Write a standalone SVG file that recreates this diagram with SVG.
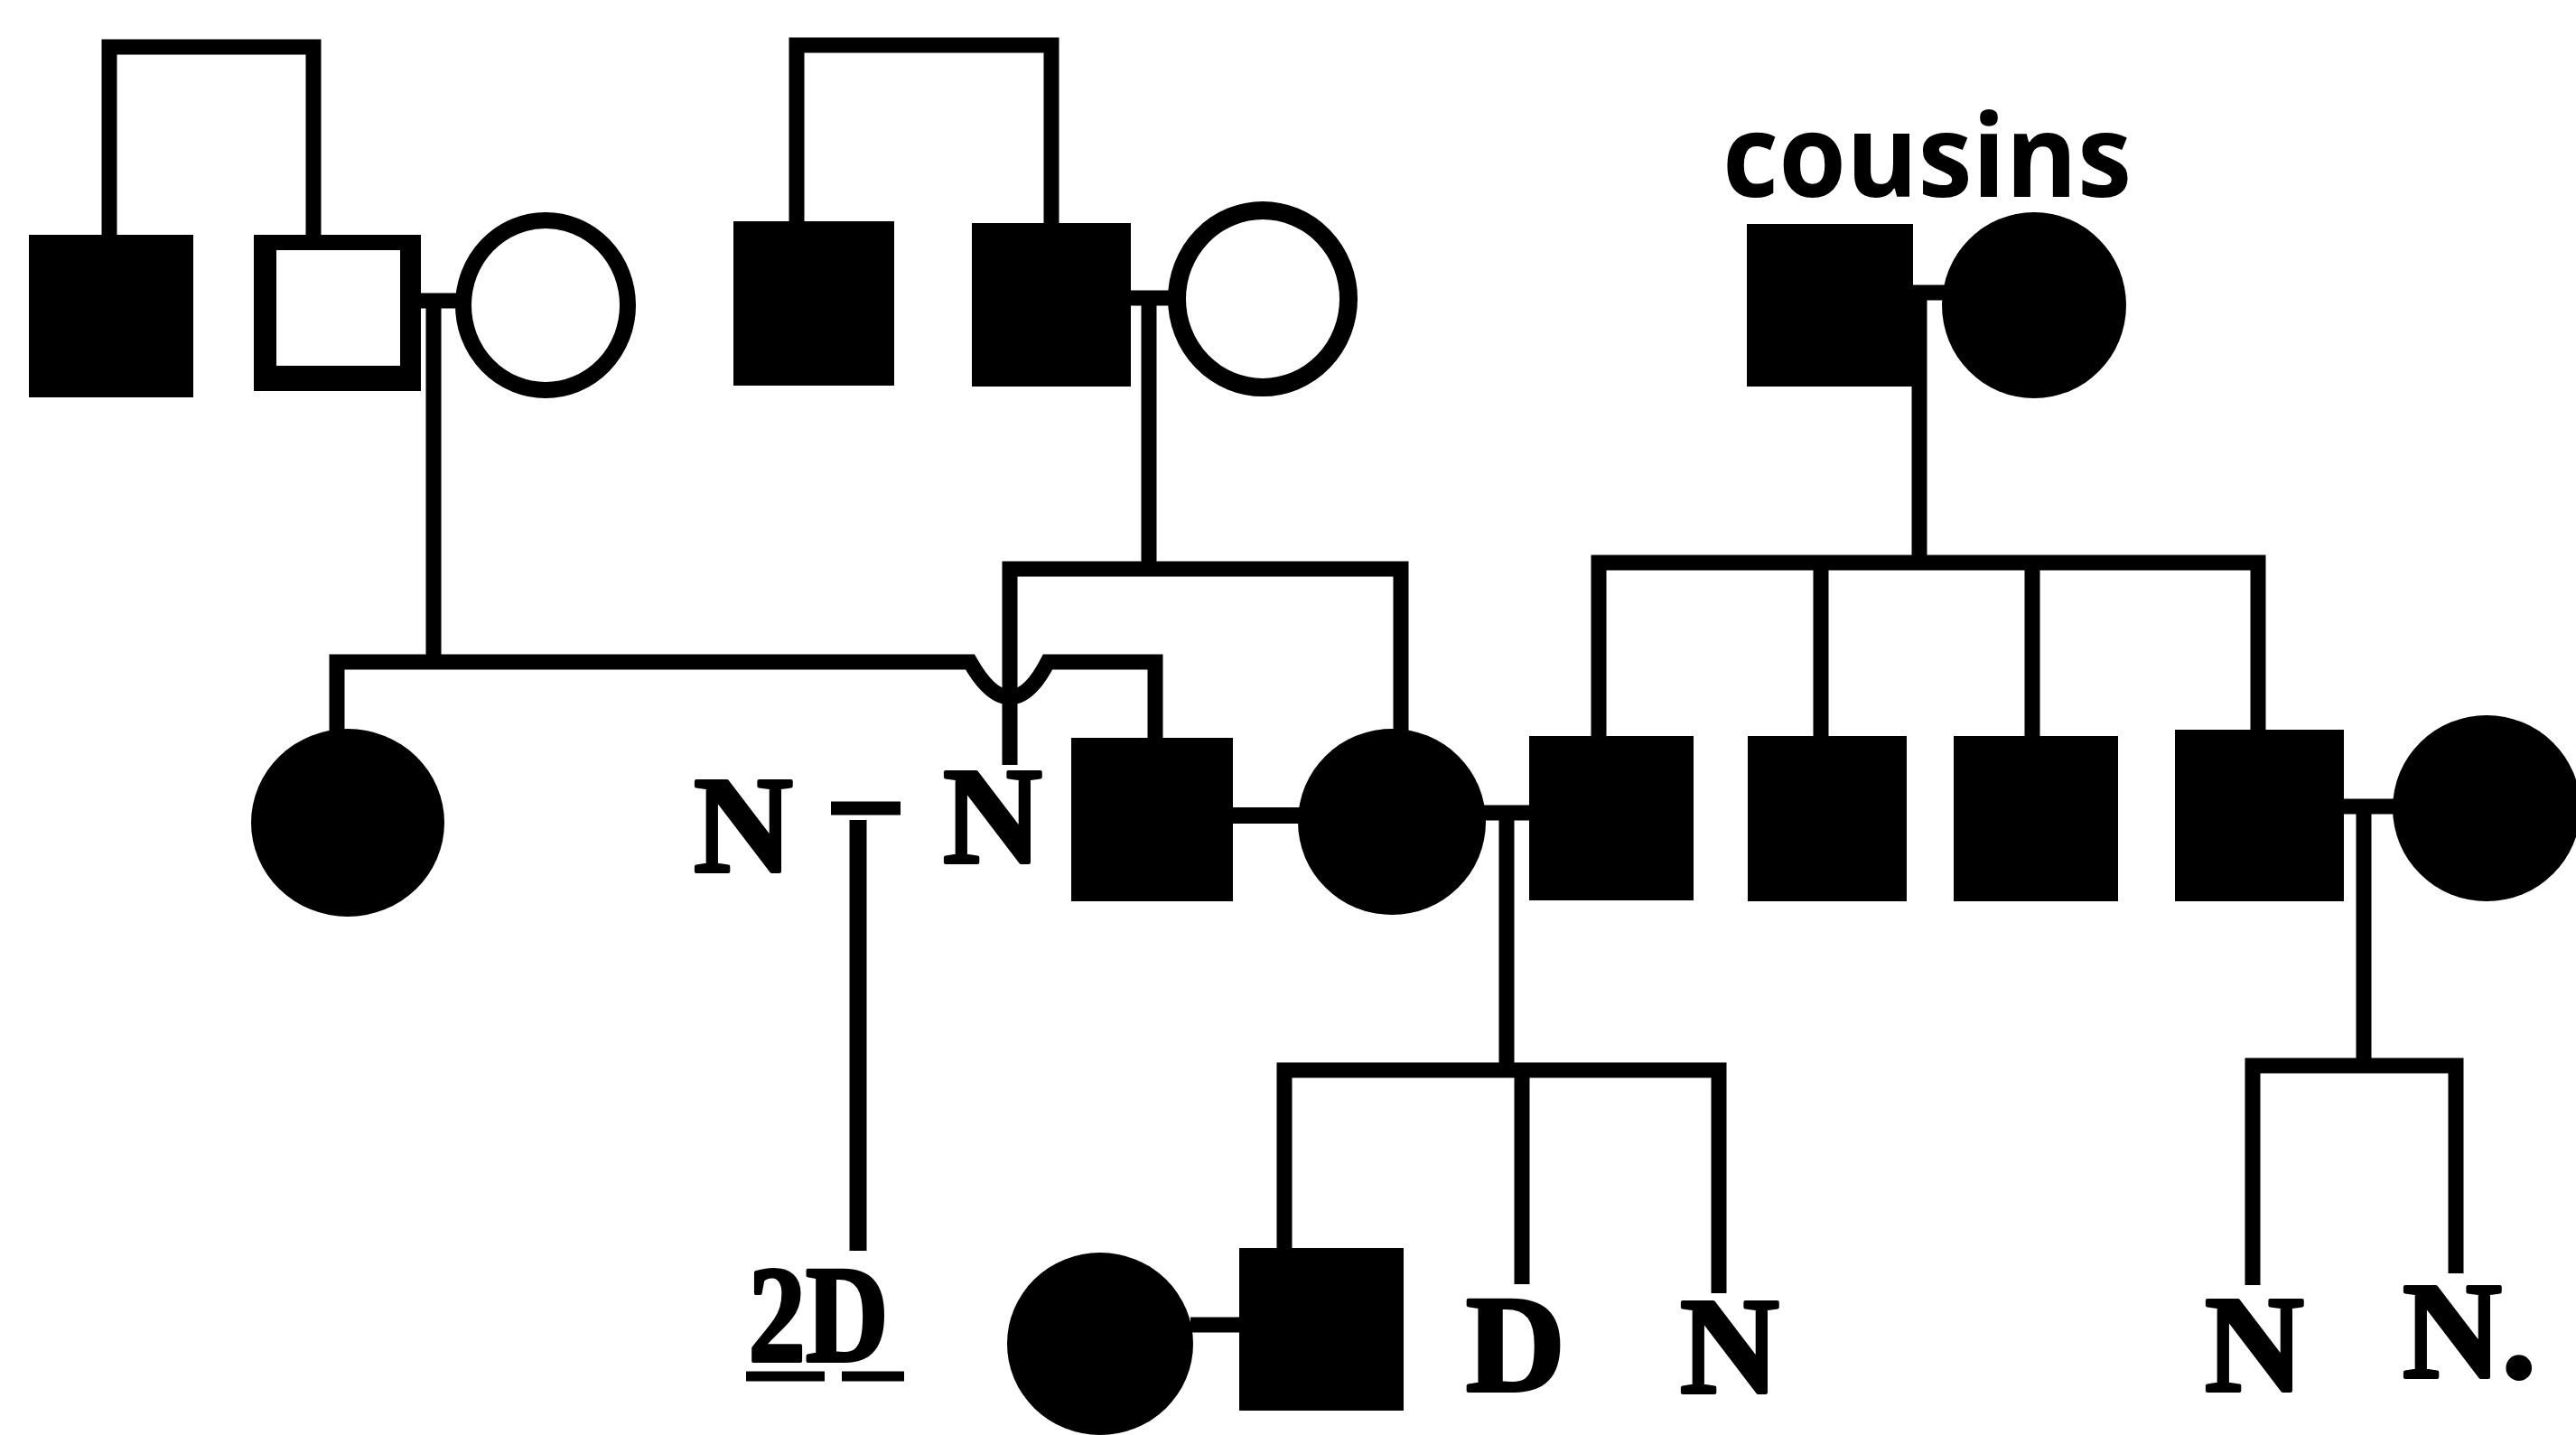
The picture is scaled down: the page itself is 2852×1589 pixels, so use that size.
<svg xmlns="http://www.w3.org/2000/svg" width="2852" height="1589" viewBox="0 0 2852 1589">
<style>
.aff{fill:#000}
.lbl{font-family:"Liberation Serif","Times New Roman",serif;font-weight:bold;font-size:152px;fill:#000;stroke:#000;stroke-width:4;stroke-linejoin:round;text-anchor:middle}
.cap{font-family:"Open Sans","Liberation Sans",sans-serif;font-weight:bold;font-size:128px;fill:#000}
</style>
<rect width="2852" height="1589" fill="#fff"/>
<g id="connectors" fill="none" stroke="#000" stroke-width="17" stroke-linejoin="miter" stroke-linecap="butt">
  <path d="M121 262 V52 H347 V262"/>
  <path d="M882 247 V50 H1164 V249"/>
  <path d="M464 333 H514"/>
  <path d="M1250 330 H1305"/>
  <path d="M2116 324 H2154"/>
  <path d="M480 333 V733"/>
  <path d="M1272 330 V630"/>
  <path d="M2125 324 V623"/>
  <path d="M373 809 V733 H1074 Q1096 772 1118 772 Q1140 772 1160 733 H1279 V820"/>
  <path d="M1118 847 V630 H1551 V809"/>
  <path d="M1770 817 V623 H2500 V810"/>
  <path d="M2016 623 V817"/>
  <path d="M2250 623 V817"/>
  <path d="M920 895 H997" stroke-width="15"/>
  <path d="M950 908 V1385" stroke-width="19"/>
  <path d="M1363 903 H1442" stroke-width="18"/>
  <path d="M1643 900 H1697"/>
  <path d="M2593 893 H2652"/>
  <path d="M1668 900 V1185"/>
  <path d="M2617 893 V1180"/>
  <path d="M1422 1384 V1185 H1903 V1432"/>
  <path d="M1685 1185 V1422"/>
  <path d="M2494 1423 V1180 H2719 V1410"/>
  <path d="M1318 1467 H1374"/>
</g>
<g id="gen1-brother-affected"><rect class="aff" x="32" y="260" width="182" height="180"/></g>
<g id="gen1-father-left"><path fill="#000" fill-rule="evenodd" d="M281 260 H466 V433 H281 Z M306 277 V405 H443 V277 Z"/></g>
<g id="gen1-mother-left"><ellipse cx="604" cy="338" rx="91" ry="94" fill="#fff" stroke="#000" stroke-width="18"/></g>
<g id="gen1-brother2-affected"><rect class="aff" x="812" y="245" width="178" height="182"/></g>
<g id="gen1-father-mid"><rect class="aff" x="1076" y="247" width="176" height="181"/></g>
<g id="gen1-mother-mid"><ellipse cx="1398" cy="331" rx="95" ry="98" fill="#fff" stroke="#000" stroke-width="20"/></g>
<g id="cousins-label"><text class="cap" x="1907" y="218" textLength="453" lengthAdjust="spacingAndGlyphs">cousins</text></g>
<g id="cousin-husband"><rect class="aff" x="1934" y="248" width="184" height="180"/></g>
<g id="cousin-wife"><ellipse class="aff" cx="2252" cy="338" rx="102" ry="103"/></g>
<g id="gen2-daughter-left"><ellipse class="aff" cx="385" cy="911" rx="107" ry="104"/></g>
<g id="gen2-N1"><text class="lbl" x="823" y="965" font-size="160">N</text></g>
<g id="gen2-N2"><text class="lbl" x="1099" y="955">N</text></g>
<g id="gen2-son"><rect class="aff" x="1186" y="817" width="179" height="181"/></g>
<g id="gen2-daughter"><ellipse class="aff" cx="1541" cy="910" rx="104" ry="103"/></g>
<g id="gen2-cousin-son1"><rect class="aff" x="1693" y="815" width="182" height="182"/></g>
<g id="gen2-cousin-son2"><rect class="aff" x="1935" y="815" width="176" height="183"/></g>
<g id="gen2-cousin-son3"><rect class="aff" x="2163" y="815" width="182" height="183"/></g>
<g id="gen2-cousin-son4"><rect class="aff" x="2408" y="808" width="187" height="190"/></g>
<g id="gen2-wife-right"><ellipse class="aff" cx="2753" cy="895" rx="104" ry="103"/></g>
<g id="gen3-2D">
  <text class="lbl" x="906" y="1507" textLength="155" lengthAdjust="spacingAndGlyphs">2D</text>
  <path d="M826 1524 H913 M932 1524 H1001" fill="none" stroke="#000" stroke-width="11"/>
</g>
<g id="gen3-wife"><ellipse class="aff" cx="1218" cy="1488" rx="103" ry="101"/></g>
<g id="gen3-son"><rect class="aff" x="1372" y="1382" width="182" height="180"/></g>
<g id="gen3-D"><text class="lbl" x="1678" y="1540">D</text></g>
<g id="gen3-N"><text class="lbl" x="1915" y="1542">N</text></g>
<g id="gen3-N-right1"><text class="lbl" x="2496" y="1540">N</text></g>
<g id="gen3-N-right2"><text class="lbl" x="2660" y="1525" style="text-anchor:start">N.</text></g>
</svg>
